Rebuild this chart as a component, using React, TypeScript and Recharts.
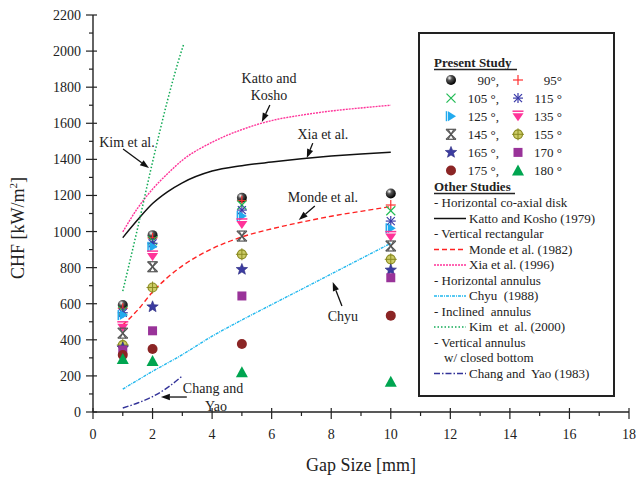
import React from "react";
import {
  ComposedChart,
  Line,
  Scatter,
  XAxis,
  YAxis,
  ReferenceLine,
  ReferenceDot,
} from "recharts";

// ---------- data ----------
const gaps = [1, 2, 5, 10];
const chf90 = [593, 980, 1187, 1211];
const chf95 = [575, 965, 1171, 1147];
const chf105 = [560, 950, 1147, 1115];
const chf115 = [550, 935, 1119, 1058];
const chf125 = [537, 916, 1086, 1018];
const chf135 = [472, 864, 1042, 972];
const chf145 = [437, 805, 975, 920];
const chf155 = [371, 690, 874, 846];
const chf165 = [355, 583, 790, 787];
const chf170 = [343, 450, 643, 744];
const chf175 = [316, 349, 377, 534];
const chf180 = [294, 283, 220, 168];

const kattoX = [1, 1.5, 2, 2.5, 3, 4, 5, 6, 7, 8, 9, 10];
const kattoY = [966, 1065, 1155, 1220, 1270, 1335, 1365, 1385, 1403, 1418, 1430, 1440];
const xiaX = [1, 1.5, 2, 2.5, 3, 4, 5, 6, 7, 8, 9, 10];
const xiaY = [998, 1130, 1235, 1320, 1395, 1495, 1565, 1615, 1645, 1668, 1685, 1700];
const mondeX = [1, 1.5, 2, 2.5, 3, 4, 5, 6, 7, 8, 9, 10];
const mondeY = [482, 565, 665, 745, 810, 905, 970, 1015, 1052, 1085, 1112, 1138];
const chyuX = [1, 2, 3, 4, 5, 6, 7, 8, 9, 10];
const chyuY = [127, 225, 318, 420, 510, 595, 680, 765, 850, 935];
const kimX = [1, 1.5, 2, 2.5, 3, 3.05];
const kimY = [670, 1020, 1385, 1725, 2015, 2040];
const changX = [1, 1.5, 2, 2.5, 3];
const changY = [22, 50, 85, 135, 200];

const xTicks = [0, 1, 2, 3, 4, 5, 6, 7, 8, 9, 10, 11, 12, 13, 14, 15, 16, 17, 18];
const yTicks = [
  0, 100, 200, 300, 400, 500, 600, 700, 800, 900, 1000, 1100, 1200, 1300, 1400,
  1500, 1600, 1700, 1800, 1900, 2000, 2100, 2200,
];

const angleSeries = [
  { angle: 90, kind: "ball", values: chf90, label: "90°," },
  { angle: 95, kind: "plus", values: chf95, label: "95°" },
  { angle: 105, kind: "x", values: chf105, label: "105 °," },
  { angle: 115, kind: "aster", values: chf115, label: "115 °" },
  { angle: 125, kind: "tri-right", values: chf125, label: "125 °," },
  { angle: 135, kind: "tri-down", values: chf135, label: "135 °" },
  { angle: 145, kind: "hourglass", values: chf145, label: "145 °," },
  { angle: 155, kind: "target", values: chf155, label: "155 °" },
  { angle: 165, kind: "star", values: chf165, label: "165 °," },
  { angle: 170, kind: "square", values: chf170, label: "170 °" },
  { angle: 175, kind: "dot", values: chf175, label: "175 °," },
  { angle: 180, kind: "tri-up", values: chf180, label: "180 °" },
];

const studies = [
  { key: "katto", xs: kattoX, ys: kattoY, color: "#111111", dash: undefined as string | undefined, width: 1.5 },
  { key: "xia", xs: xiaX, ys: xiaY, color: "#ff3399", dash: "2 1", width: 1.4 },
  { key: "monde", xs: mondeX, ys: mondeY, color: "#ff2222", dash: "5 3", width: 1.4 },
  { key: "chyu", xs: chyuX, ys: chyuY, color: "#22b8ee", dash: "3 1 1 1", width: 1.4 },
  { key: "kim", xs: kimX, ys: kimY, color: "#11aa55", dash: "1.5 2", width: 1.5 },
  { key: "chang", xs: changX, ys: changY, color: "#333399", dash: "6 2 1.5 2", width: 1.4 },
];

const annotationTexts = [
  { text: "Katto and", x: 5.91, y: 1850 },
  { text: "Kosho", x: 5.91, y: 1756 },
  { text: "Kim et al.", x: 1.14, y: 1496 },
  { text: "Xia et al.", x: 7.72, y: 1540 },
  { text: "Monde et al.", x: 7.72, y: 1191 },
  { text: "Chyu", x: 8.39, y: 532 },
  { text: "Chang and", x: 4.03, y: 133 },
  { text: "Yao", x: 4.13, y: 33 },
];
const annotationArrows = [
  { x1: 5.94, y1: 1701, x2: 5.67, y2: 1607 },
  { x1: 1.01, y1: 1457, x2: 1.88, y2: 1352 },
  { x1: 7.38, y1: 1490, x2: 7.18, y2: 1407 },
  { x1: 7.45, y1: 1141, x2: 6.91, y2: 1064 },
  { x1: 8.36, y1: 587, x2: 8.05, y2: 720 },
  { x1: 3.15, y1: 83, x2: 2.28, y2: 83 },
];

const otherStudiesLegend = [
  { head: "- Horizontal co-axial disk" },
  { key: "katto", text: "Katto and Kosho (1979)" },
  { head: "- Vertical rectangular" },
  { key: "monde", text: "Monde et al. (1982)" },
  { key: "xia", text: "Xia et al. (1996)" },
  { head: "- Horizontal annulus" },
  { key: "chyu", text: "Chyu  (1988)" },
  { head: "- Inclined  annulus" },
  { key: "kim", text: "Kim  et  al. (2000)" },
  { head: "- Vertical annulus" },
  { head: "w/ closed bottom", indent: true },
  { key: "chang", text: "Chang and  Yao (1983)" },
];

const FONT = "'Liberation Serif', 'Times New Roman', serif";
const INK = "#222222";

// ---------- markers ----------
function Marker({ kind, cx, cy }: { kind: string; cx: number; cy: number }) {
  if (cx == null || cy == null || isNaN(cx) || isNaN(cy)) return null;
  switch (kind) {
    case "ball":
      return (
        <g>
          <defs>
            <radialGradient id="ballGrad" cx="0.35" cy="0.3" r="0.7">
              <stop offset="0" stopColor="#ffffff" />
              <stop offset="0.35" stopColor="#555555" />
              <stop offset="1" stopColor="#000000" />
            </radialGradient>
          </defs>
          <circle cx={cx} cy={cy} r={5} fill="url(#ballGrad)" />
        </g>
      );
    case "plus":
      return (
        <g stroke="#ff3030" strokeWidth={1.2}>
          <line x1={cx - 5} y1={cy} x2={cx + 5} y2={cy} />
          <line x1={cx} y1={cy - 5} x2={cx} y2={cy + 5} />
        </g>
      );
    case "x":
      return (
        <g stroke="#22bb55" strokeWidth={1.2}>
          <line x1={cx - 4.5} y1={cy - 4.5} x2={cx + 4.5} y2={cy + 4.5} />
          <line x1={cx - 4.5} y1={cy + 4.5} x2={cx + 4.5} y2={cy - 4.5} />
        </g>
      );
    case "aster":
      return (
        <g stroke="#3a3aa8" strokeWidth={1.2}>
          <line x1={cx - 5} y1={cy} x2={cx + 5} y2={cy} />
          <line x1={cx} y1={cy - 5} x2={cx} y2={cy + 5} />
          <line x1={cx - 4} y1={cy - 4} x2={cx + 4} y2={cy + 4} />
          <line x1={cx - 4} y1={cy + 4} x2={cx + 4} y2={cy - 4} />
        </g>
      );
    case "tri-right":
      return (
        <g>
          <polygon
            points={`${cx - 3},${cy - 5} ${cx + 5},${cy} ${cx - 3},${cy + 5}`}
            fill="#22aaee"
          />
          <line x1={cx - 4.5} y1={cy - 5} x2={cx - 4.5} y2={cy + 5} stroke="#22aaee" strokeWidth={1.5} />
        </g>
      );
    case "tri-down":
      return (
        <g>
          <polygon
            points={`${cx - 5.5},${cy - 3} ${cx + 5.5},${cy - 3} ${cx},${cy + 5}`}
            fill="#ff3399"
          />
          <line x1={cx - 5.5} y1={cy - 5} x2={cx + 5.5} y2={cy - 5} stroke="#ff3399" strokeWidth={1.5} />
        </g>
      );
    case "hourglass":
      return (
        <g stroke="#555555" strokeWidth={1.2} fill="none">
          <line x1={cx - 5} y1={cy - 5} x2={cx + 5} y2={cy + 5} />
          <line x1={cx + 5} y1={cy - 5} x2={cx - 5} y2={cy + 5} />
          <line x1={cx - 5} y1={cy - 5} x2={cx + 5} y2={cy - 5} />
          <line x1={cx - 5} y1={cy + 5} x2={cx + 5} y2={cy + 5} />
          <line x1={cx - 3} y1={cy - 5} x2={cx + 3} y2={cy + 5} />
          <line x1={cx + 3} y1={cy - 5} x2={cx - 3} y2={cy + 5} />
        </g>
      );
    case "target":
      return (
        <g>
          <circle cx={cx} cy={cy} r={4.5} fill="#cccc66" stroke="#8a8a22" strokeWidth={1.2} />
          <line x1={cx - 6} y1={cy} x2={cx + 6} y2={cy} stroke="#8a8a22" strokeWidth={1} />
          <line x1={cx} y1={cy - 6} x2={cx} y2={cy + 6} stroke="#8a8a22" strokeWidth={1} />
        </g>
      );
    case "star": {
      const pts: string[] = [];
      for (let i = 0; i < 10; i++) {
        const r = i % 2 === 0 ? 6 : 2.6;
        const a = -Math.PI / 2 + (i * Math.PI) / 5;
        pts.push(`${cx + r * Math.cos(a)},${cy + r * Math.sin(a)}`);
      }
      return <polygon points={pts.join(" ")} fill="#3b3ba0" stroke="#2a2a80" strokeWidth={0.6} />;
    }
    case "square":
      return <rect x={cx - 4.5} y={cy - 4.5} width={9} height={9} fill="#993399" />;
    case "dot":
      return <circle cx={cx} cy={cy} r={5} fill="#8b2525" />;
    case "tri-up":
      return (
        <polygon
          points={`${cx},${cy - 6} ${cx + 6},${cy + 5} ${cx - 6},${cy + 5}`}
          fill="#00a550"
        />
      );
    default:
      return null;
  }
}

// ---------- ticks ----------
function BottomTick(props: any) {
  const { x, y, payload } = props;
  const major = payload.value % 2 === 0;
  return (
    <g>
      <line x1={x} y1={major ? y - 4 : y} x2={x} y2={y + (major ? 7 : 4)} stroke={INK} strokeWidth={1.2} />
      {major && (
        <text x={x} y={y + 27} textAnchor="middle" fontSize={14} fontFamily={FONT} fill={INK}>
          {payload.value}
        </text>
      )}
    </g>
  );
}
function TopTick(props: any) {
  const { x, y, payload } = props;
  const major = payload.value % 2 === 0;
  return <line x1={x} y1={y} x2={x} y2={y + (major ? 7 : 4)} stroke={INK} strokeWidth={1.2} />;
}
function LeftTick(props: any) {
  const { x, y, payload } = props;
  const major = payload.value % 200 === 0;
  return (
    <g>
      <line x1={x - (major ? 7 : 4)} y1={y} x2={major ? x + 4 : x} y2={y} stroke={INK} strokeWidth={1.2} />
      {major && (
        <text x={x - 12} y={y + 5} textAnchor="end" fontSize={14} fontFamily={FONT} fill={INK}>
          {payload.value}
        </text>
      )}
    </g>
  );
}
function RightTick(props: any) {
  const { x, y, payload } = props;
  const major = payload.value % 200 === 0;
  return <line x1={major ? x - 4 : x} y1={y} x2={x + (major ? 7 : 4)} y2={y} stroke={INK} strokeWidth={1.2} />;
}

function ArrowShape(props: any) {
  const { x1, y1, x2, y2 } = props;
  if ([x1, y1, x2, y2].some((v) => v == null || isNaN(v))) return null;
  const ang = Math.atan2(y2 - y1, x2 - x1);
  const L = 9;
  const W = 3.2;
  const bx = x2 - L * Math.cos(ang);
  const by = y2 - L * Math.sin(ang);
  const px = -Math.sin(ang) * W;
  const py = Math.cos(ang) * W;
  return (
    <g>
      <line x1={x1} y1={y1} x2={bx} y2={by} stroke="#111" strokeWidth={1.3} />
      <polygon points={`${x2},${y2} ${bx + px},${by + py} ${bx - px},${by - py}`} fill="#111" />
    </g>
  );
}

function Legend() {
  const styleOf = (key: string) => studies.find((s) => s.key === key)!;
  const rows: number[][] = [[0, 1], [2, 3], [4, 5], [6, 7], [8, 9], [10, 11]];
  return (
    <svg width={637} height={478} style={{ position: "absolute", left: 0, top: 0, pointerEvents: "none" }}>
      <rect x={419} y={33} width={195} height={363} fill="#ffffff" stroke={INK} strokeWidth={2} />
      <g fontFamily={FONT} fill={INK}>
        <text x={434} y={67} fontSize={13} fontWeight="bold">Present Study</text>
        <line x1={434} y1={69.5} x2={517} y2={69.5} stroke={INK} strokeWidth={1.6} />
        {rows.map((r, i) => {
          const cy = 80 + i * 18.1;
          const a = angleSeries[r[0]];
          const b = angleSeries[r[1]];
          return (
            <g key={i}>
              <Marker kind={a.kind} cx={451} cy={cy} />
              <text x={499} y={cy + 4.5} textAnchor="end" fontSize={13} style={{ whiteSpace: "pre" }}>{a.label}</text>
              <Marker kind={b.kind} cx={518} cy={cy} />
              <text x={562} y={cy + 4.5} textAnchor="end" fontSize={13} style={{ whiteSpace: "pre" }}>{b.label}</text>
            </g>
          );
        })}
        <text x={434} y={191} fontSize={13} fontWeight="bold">Other Studies</text>
        <line x1={434} y1={193.5} x2={515} y2={193.5} stroke={INK} strokeWidth={1.6} />
        {otherStudiesLegend.map((it: any, i) => {
          const base = 207 + i * 15.5;
          if (it.head) {
            return (
              <text key={i} x={it.indent ? 444 : 434} y={base} fontSize={13} style={{ whiteSpace: "pre" }}>
                {it.head}
              </text>
            );
          }
          const s = styleOf(it.key);
          return (
            <g key={i}>
              <line x1={434} y1={base - 4} x2={466} y2={base - 4} stroke={s.color} strokeWidth={s.width} strokeDasharray={s.dash} />
              <text x={469} y={base} fontSize={13} style={{ whiteSpace: "pre" }}>{it.text}</text>
            </g>
          );
        })}
      </g>
    </svg>
  );
}

export default function App() {
  return (
    <div style={{ position: "absolute", left: 0, top: 0, width: 637, height: 478, background: "#fff" }}>
      <ComposedChart width={637} height={478} margin={{ top: 15, right: 8, bottom: 0, left: 0 }}>
        <XAxis
          xAxisId="b"
          dataKey="x"
          type="number"
          domain={[0, 18]}
          ticks={xTicks}
          interval={0}
          height={66}
          tickSize={0}
          tickMargin={0}
          tick={<BottomTick />}
          axisLine={{ stroke: INK, strokeWidth: 1.4 }}
          tickLine={false}
          allowDataOverflow
          label={{
            content: (p: any) => (
              <text
                x={p.viewBox.x + p.viewBox.width / 2}
                y={p.viewBox.y + 59}
                textAnchor="middle"
                fontSize={18}
                fontFamily={FONT}
                fill={INK}
              >
                Gap Size [mm]
              </text>
            ),
          }}
        />
        <XAxis
          xAxisId="t"
          orientation="top"
          type="number"
          dataKey="x"
          domain={[0, 18]}
          ticks={xTicks}
          interval={0}
          height={0}
          mirror
          tickSize={0}
          tickMargin={0}
          tick={<TopTick />}
          axisLine={{ stroke: INK, strokeWidth: 1.4 }}
          tickLine={false}
          allowDataOverflow
        />
        <YAxis
          yAxisId="l"
          dataKey="y"
          type="number"
          domain={[0, 2200]}
          ticks={yTicks}
          interval={0}
          width={93}
          tickSize={0}
          tickMargin={0}
          tick={<LeftTick />}
          axisLine={{ stroke: INK, strokeWidth: 1.4 }}
          tickLine={false}
          allowDataOverflow
          label={{
            content: () => (
              <text
                x={24}
                y={228}
                transform="rotate(-90 24 228)"
                textAnchor="middle"
                fontSize={18}
                fontFamily={FONT}
                fill={INK}
              >
                CHF [kW/m
                <tspan dy={-7} fontSize={11}>2</tspan>
                <tspan dy={7}>]</tspan>
              </text>
            ),
          }}
        />
        <YAxis
          yAxisId="r"
          orientation="right"
          type="number"
          dataKey="y"
          domain={[0, 2200]}
          ticks={yTicks}
          interval={0}
          width={0}
          tickSize={0}
          tickMargin={0}
          tick={<RightTick />}
          axisLine={{ stroke: INK, strokeWidth: 1.4 }}
          tickLine={false}
          allowDataOverflow
        />

        {studies.map((s) => (
          <Line
            key={s.key}
            xAxisId="b"
            yAxisId="l"
            data={s.xs.map((x, i) => ({ x, y: s.ys[i] }))}
            dataKey="y"
            type="monotone"
            stroke={s.color}
            strokeWidth={s.width}
            strokeDasharray={s.dash}
            dot={false}
            activeDot={false}
            isAnimationActive={false}
          />
        ))}

        {angleSeries.map((a) => (
          <Scatter
            key={a.angle}
            xAxisId="b"
            yAxisId="l"
            data={gaps.map((g, i) => ({ x: g, y: a.values[i] }))}
            dataKey="y"
            shape={(p: any) => <Marker kind={a.kind} cx={p.cx} cy={p.cy} />}
            isAnimationActive={false}
          />
        ))}

        {annotationArrows.map((ar, i) => (
          <ReferenceLine
            key={"ar" + i}
            xAxisId="b"
            yAxisId="l"
            segment={[
              { x: ar.x1, y: ar.y1 },
              { x: ar.x2, y: ar.y2 },
            ]}
            ifOverflow="visible"
            shape={(p: any) => <ArrowShape {...p} />}
          />
        ))}
        {annotationTexts.map((t, i) => (
          <ReferenceDot
            key={"t" + i}
            xAxisId="b"
            yAxisId="l"
            x={t.x}
            y={t.y}
            r={0}
            ifOverflow="visible"
            shape={(p: any) => (
              <text x={p.cx} y={p.cy + 5} textAnchor="middle" fontSize={14} fontFamily={FONT} fill={INK}>
                {t.text}
              </text>
            )}
          />
        ))}
      </ComposedChart>
      <Legend />
    </div>
  );
}
